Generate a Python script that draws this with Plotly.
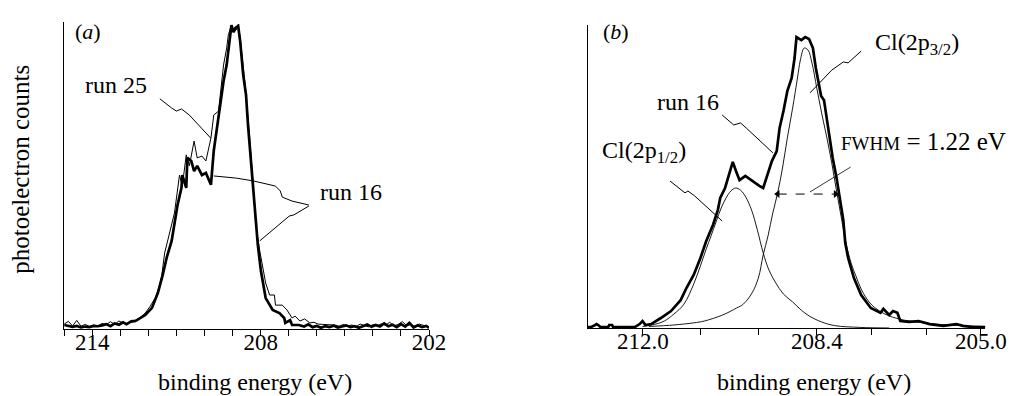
import plotly.graph_objects as go

FONT = "Liberation Serif"

# ---------------- panel (a) : binding energy (eV) vs photoelectron counts ----------------
a_E16 = [215.00, 214.85, 214.70, 214.55, 214.40, 214.25, 214.10, 213.95, 213.80, 213.65, 213.50, 213.35,
         213.20, 213.05, 212.90, 212.78, 212.62, 212.46, 212.30, 212.11, 211.87, 211.66, 211.49, 211.35,
         211.17, 211.07, 210.96, 210.82, 210.79, 210.65, 210.61, 210.47, 210.37, 210.26, 210.09, 209.95,
         209.77, 209.67, 209.56, 209.42, 209.32, 209.21, 209.08, 209.04, 208.97, 208.90, 208.80, 208.73,
         208.62, 208.52, 208.45, 208.38, 208.27, 208.20, 208.10, 207.99, 207.82, 207.57, 207.33, 207.16,
         207.12, 206.95, 206.88, 206.64,
         206.45, 206.30, 206.15, 206.00, 205.85, 205.70, 205.55, 205.40, 205.25, 205.10, 204.95, 204.80,
         204.65, 204.50, 204.35, 204.20, 204.05, 203.90, 203.75, 203.60, 203.45, 203.30, 203.15, 203.00,
         202.85, 202.70, 202.55, 202.40, 202.25, 202.10, 202.00]
a_run16 = [1.3, 1.0, 0.7, 1.0, 0.5, 0.8, 0.6, 1.0, 0.9, 1.2, 1.6, 0.9,
           1.8, 1.4, 2.2, 1.6, 2.4, 2.6, 3.4, 4.6, 6.9, 11.8, 17.6, 23.2,
           28.8, 34.0, 40.5, 46.1, 50.3, 46.1, 55.9, 54.9, 51.6, 53.3, 50.3, 51.0,
           47.1, 58.2, 65.7, 74.5, 81.0, 86.3, 96.1, 99.3, 97.0, 98.4, 99.0, 94.1,
           83.0, 76.5, 66.7, 59.2, 48.4, 39.5, 27.5, 19.0, 10.1, 6.2, 5.2, 3.6,
           2.0, 2.9, 1.3, 1.3,
           0.8, 1.5, 0.6, 1.0, 0.4, 0.9, 0.6, 1.1, 0.5, 0.8, 1.2, 0.6,
           0.9, 0.4, 1.0, 1.5, 0.7, 1.3, 0.8, 1.8, 0.9, 1.4, 0.6, 1.6,
           0.8, 2.0, 0.5, 1.2, 0.6, 1.0, 0.4]

a_E25 = [215.00, 214.85, 214.70, 214.55, 214.40, 214.25, 214.10, 213.95, 213.80, 213.65, 213.50, 213.35,
         213.20, 213.05, 212.90, 212.78, 212.62, 212.46, 212.30, 212.11, 211.93, 211.76, 211.62, 211.52,
         211.42, 211.24, 211.07, 210.89, 210.79, 210.65, 210.54, 210.37, 210.26, 210.09, 209.95, 209.77,
         209.67, 209.50, 209.42, 209.32, 209.21, 209.15, 209.04, 208.95, 208.87, 208.80, 208.73, 208.55,
         208.38, 208.17, 208.03, 207.82, 207.68, 207.51, 207.47, 207.23, 207.06, 206.88, 206.77, 206.60,
         206.43, 206.25,
         206.10, 205.95, 205.80, 205.65, 205.50, 205.35, 205.20, 205.05, 204.90, 204.75, 204.60, 204.45,
         204.30, 204.15, 204.00, 203.85, 203.70, 203.55, 203.40, 203.25, 203.10, 202.95, 202.80, 202.65,
         202.50, 202.35, 202.20, 202.05]
a_run25 = [1.6, 2.5, 1.0, 2.8, 0.9, 1.5, 0.8, 1.3, 1.0, 1.8, 1.4, 2.4,
           1.5, 2.6, 2.0, 1.5, 2.8, 2.9, 3.6, 5.2, 7.5, 10.1, 13.5, 17.6,
           24.8, 31.4, 37.9, 50.3, 46.7, 56.9, 53.3, 61.4, 55.9, 56.5, 54.9, 62.4,
           69.9, 71.2, 77.8, 86.3, 91.8, 96.1, 99.3, 97.0, 97.7, 99.5, 95.1, 79.7,
           61.4, 34.0, 25.5, 15.0, 11.1, 11.1, 7.8, 7.8, 6.2, 3.6, 4.2, 2.6,
           3.3, 2.0,
           2.2, 1.6, 1.5, 1.4, 1.4, 1.3, 0.9, 1.5, 1.0, 1.3, 0.8, 1.6,
           1.1, 0.7, 1.4, 1.0, 1.7, 1.2, 2.2, 1.0, 1.5, 2.4, 1.1, 1.4,
           0.9, 1.6, 1.2, 0.7]

a_tickvals = [214, 208, 202]
a_ticktext = ["214", "208", "202"]
a_minor_ticks = [215, 214, 213, 212, 211, 210, 209, 208, 207, 206, 205, 204, 203, 202]

# ---------------- panel (b) ----------------
b_E16 = [213.14, 213.08, 212.99, 212.96, 212.93, 212.88, 212.72, 212.70, 212.64, 212.62, 212.47, 212.17,
         212.07, 212.01, 211.95, 211.83, 211.63, 211.42, 211.22, 211.10, 210.95, 210.81, 210.69, 210.55,
         210.45, 210.40, 210.30, 210.20, 210.14, 210.06, 210.00, 209.88, 209.74, 209.59, 209.51, 209.43,
         209.33, 209.23, 209.17, 209.09, 209.01, 208.92, 208.86, 208.82, 208.72, 208.64, 208.56, 208.48,
         208.42, 208.31, 208.25, 208.17, 208.07, 207.99, 207.93, 207.85, 207.81, 207.75, 207.63, 207.48,
         207.28, 207.08, 207.02, 206.96, 206.90, 206.82, 206.73, 206.67, 206.49, 206.29, 206.06, 205.78,
         205.51, 205.37, 205.17, 204.91]
b_run16 = [0.3, 0.3, 1.0, 1.3, 1.0, 0.3, 0.3, 1.0, 1.0, 0.3, 0.3, 0.3,
           1.3, 2.3, 1.0, 1.3, 3.3, 5.6, 9.2, 13.2, 17.5, 23.1, 28.7, 34.0,
           38.9, 42.9, 46.2, 51.8, 54.8, 51.2, 48.8, 50.2, 48.5, 46.9, 46.2, 50.5,
           55.1, 58.4, 66.0, 71.6, 78.2, 82.5, 89.1, 96.0, 95.0, 96.0, 95.4, 92.4,
           85.8, 76.6, 75.2, 66.7, 56.1, 49.5, 42.9, 35.6, 28.1, 23.1, 16.5, 10.9,
           6.6, 5.0, 6.3, 5.3, 4.3, 5.6, 5.0, 2.3, 2.0, 2.3, 1.3, 0.7,
           1.3, 0.7, 0.3, 0.3]

b_E_p12 = [212.01, 211.76, 211.56, 211.36, 211.15, 210.95, 210.81, 210.69, 210.59, 210.48, 210.38, 210.28,
           210.18, 210.08, 209.98, 209.87, 209.75, 209.63, 209.51, 209.39, 209.25, 209.09, 208.90, 208.72,
           208.56, 208.30, 208.03, 207.50, 206.90]
b_p12 = [0.5, 1.2, 2.3, 4.6, 7.9, 14.5, 20.5, 26.1, 30.4, 35.3, 39.6, 42.9,
         45.2, 46.2, 45.5, 43.2, 38.9, 32.3, 24.8, 19.1, 14.9, 11.2, 8.6, 5.9,
         4.0, 2.0, 0.8, 0.2, 0.0]

b_E_p32 = [211.88, 211.36, 210.95, 210.73, 210.35, 210.06, 209.92, 209.74, 209.61, 209.51, 209.41, 209.31,
           209.21, 209.11, 209.01, 208.90, 208.80, 208.74, 208.66, 208.58, 208.50, 208.40, 208.30, 208.19,
           208.09, 207.99, 207.89, 207.79, 207.69, 207.59, 207.47, 207.30, 207.10, 206.90, 206.59, 206.19,
           205.68, 204.91]
b_p32 = [0.5, 1.0, 1.7, 2.3, 4.3, 6.6, 7.9, 11.6, 16.5, 24.1, 30.4, 38.0,
         44.6, 52.8, 62.7, 72.6, 82.5, 88.4, 92.4, 91.7, 87.5, 79.2, 71.0, 62.7,
         54.5, 45.2, 36.3, 27.7, 21.5, 17.2, 12.5, 8.3, 5.6, 4.0, 2.6, 1.7,
         1.0, 0.5]

b_tickvals = [212.0, 208.4, 205.0]
b_ticktext = ["212.0", "208.4", "205.0"]
b_minor_ticks = [212.0, 210.8, 209.6, 208.4, 207.27, 206.13, 205.0]

fwhm_E = [209.21, 208.01]      # ends of the FWHM marker
fwhm_level = [44.2, 44.2]

# ---------------- figure ----------------
fig = go.Figure()
fig.add_trace(go.Scatter(x=a_E25, y=a_run25, mode="lines", line=dict(color="black", width=1.0),
                         xaxis="x", yaxis="y", name="run 25"))
fig.add_trace(go.Scatter(x=a_E16, y=a_run16, mode="lines", line=dict(color="black", width=2.7),
                         xaxis="x", yaxis="y", name="run 16"))
fig.add_trace(go.Scatter(x=b_E_p12, y=b_p12, mode="lines", line=dict(color="black", width=0.9, shape="spline"),
                         xaxis="x2", yaxis="y2", name="Cl(2p1/2)"))
fig.add_trace(go.Scatter(x=b_E_p32, y=b_p32, mode="lines", line=dict(color="black", width=0.9, shape="spline"),
                         xaxis="x2", yaxis="y2", name="Cl(2p3/2)"))
fig.add_trace(go.Scatter(x=b_E16, y=b_run16, mode="lines", line=dict(color="black", width=2.7),
                         xaxis="x2", yaxis="y2", name="run 16"))
# FWHM double-headed dashed marker
fig.add_trace(go.Scatter(x=fwhm_E, y=fwhm_level, mode="lines+markers",
                         line=dict(color="black", width=1, dash="dash"),
                         marker=dict(symbol=["triangle-left", "triangle-right"], size=7, color="black"),
                         xaxis="x2", yaxis="y2", name="FWHM", hoverinfo="skip"))

xcommon = dict(showline=True, linecolor="black", linewidth=1, ticks="outside", ticklen=6, tickwidth=1,
               tickcolor="black", showgrid=False, zeroline=False, ticklabelstandoff=-14,
               tickfont=dict(family=FONT, size=23, color="black"))
ycommon = dict(showline=True, linecolor="black", linewidth=1, ticks="", showticklabels=False,
               showgrid=False, zeroline=False)
minor_common = dict(ticks="outside", ticklen=6, tickwidth=1, tickcolor="black", showgrid=False)

fig.update_layout(
    width=1022, height=396,
    margin=dict(l=0, r=0, t=0, b=0),
    paper_bgcolor="white", plot_bgcolor="white",
    showlegend=False,
    font=dict(family=FONT, color="black"),
    xaxis=dict(domain=[0.0561, 0.4206], range=[215, 202], tickmode="array",
               tickvals=a_tickvals, ticktext=a_ticktext, anchor="y",
               minor=dict(tickmode="array", tickvals=a_minor_ticks, **minor_common), **xcommon),
    yaxis=dict(domain=[0.1894, 0.9646], range=[0, 100.3], anchor="x", **ycommon),
    xaxis2=dict(domain=[0.5790, 0.9765], range=[213.148, 204.905], tickmode="array",
                tickvals=b_tickvals, ticktext=b_ticktext, anchor="y2",
                minor=dict(tickmode="array", tickvals=b_minor_ticks, **minor_common), **xcommon),
    yaxis2=dict(domain=[0.1919, 0.9571], range=[0, 100], anchor="x2", **ycommon),
)

def leader(xs, ys, xref, yref, width=1.0):
    path = "M " + " L ".join(f"{x},{y}" for x, y in zip(xs, ys))
    return dict(type="path", path=path, xref=xref, yref=yref,
                line=dict(color="black", width=width))

shapes = [
    # panel (a) leaders
    leader([211.59, 211.17, 211.00, 210.82, 210.54, 209.78], [75.2, 72.2, 71.2, 71.9, 69.9, 62.4], "x", "y"),
    leader([209.67, 208.87, 208.27, 207.47, 207.30, 207.23, 206.88, 206.28],
           [50.0, 49.3, 48.4, 46.7, 45.1, 43.1, 41.8, 40.5], "x", "y"),
    leader([206.28, 206.81, 206.98, 208.03], [40.2, 37.3, 36.9, 28.8], "x", "y"),
    # panel (b) leaders
    leader([210.36, 210.12, 209.98, 209.86, 209.31], [70.3, 67.0, 67.7, 66.0, 57.8], "x2", "y2"),
    leader([207.48, 207.75, 207.85, 208.09, 208.54], [91.4, 87.5, 87.8, 85.1, 77.6], "x2", "y2"),
    leader([211.44, 211.13, 211.07, 210.93, 210.36], [48.5, 44.6, 45.2, 43.6, 35.3], "x2", "y2"),
    leader([207.70, 208.54], [53.1, 44.9], "x2", "y2", width=0.8),
]
fig.update_layout(shapes=shapes)

def txt(text, x, y, size=24, xanchor="center", **kw):
    return dict(text=text, x=x, y=y, xref="paper", yref="paper", showarrow=False,
                xanchor=xanchor, yanchor="middle", font=dict(family=FONT, size=size, color="black"), **kw)

annotations = [
    txt("(<i>a</i>)", 0.0802, 0.9394, size=22),
    txt("run 25", 0.1076, 0.8056),
    txt("run 16", 0.3425, 0.5354),
    txt("photoelectron counts", 0.0117, 0.5934, size=25, textangle=-90),
    txt("binding energy (eV)", 0.2466, 0.0556, size=24),
    txt("(<i>b</i>)", 0.6076, 0.9419, size=22),
    txt("Cl(2p<sub>3/2</sub>)", 0.9080, 0.9091),
    txt("run 16", 0.6790, 0.7626),
    txt("Cl(2p<sub>1/2</sub>)", 0.6350, 0.6364),
    txt("<span style='font-size:19px'>FWHM</span> = 1.22 eV", 0.9995, 0.6641, size=25, xanchor="right"),
    txt("binding energy (eV)", 0.8053, 0.0556, size=24),
]
fig.update_layout(annotations=annotations)

fig.write_html("out.html")
